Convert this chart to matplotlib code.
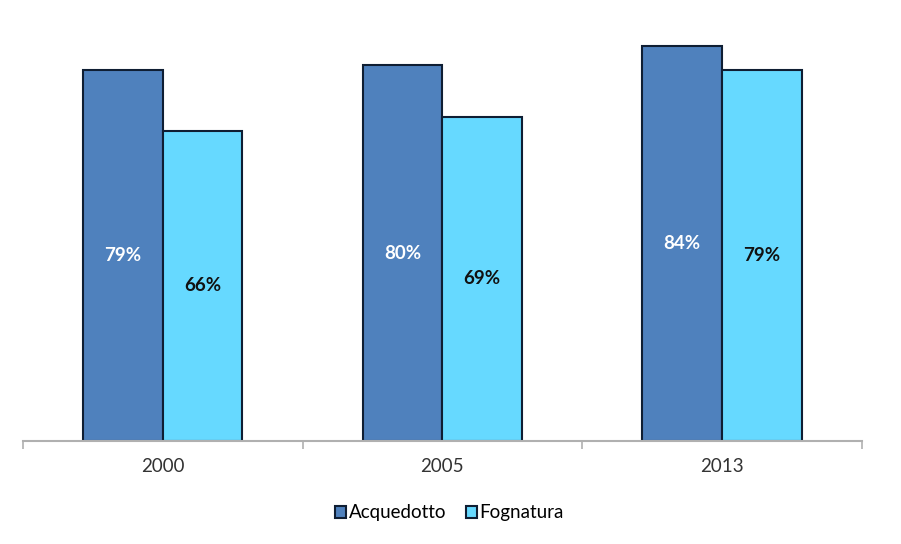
import numpy as np
from matplotlib import pyplot as plt

plt.rcParams['font.family'] = ['Lato', 'DejaVu Sans']

anni = ['2000', '2005', '2013']
acquedotto = [79, 80, 84]
fognatura = [66, 69, 79]
etichette_acq = ['79%', '80%', '84%']
etichette_fog = ['66%', '69%', '79%']

fig = plt.figure(figsize=(9.01, 5.44), dpi=100)
ax = fig.add_axes([0.0255, 0.1893, 0.931, 0.7776])

x = np.arange(len(anni))
w = 0.285
b1 = ax.bar(x - w / 2, acquedotto, w, color='#4F81BD', edgecolor='#0F1E33',
            linewidth=1.5, label='Acquedotto')
b2 = ax.bar(x + w / 2, fognatura, w, color='#66D9FF', edgecolor='#0F1E33',
            linewidth=1.5, label='Fognatura')

for i in range(len(anni)):
    ax.text(x[i] - w / 2, acquedotto[i] / 2, etichette_acq[i], ha='center', va='center',
            color='white', fontsize=13.5, fontweight='bold')
    ax.text(x[i] + w / 2, fognatura[i] / 2, etichette_fog[i], ha='center', va='center',
            color='#111111', fontsize=13.5, fontweight='bold')

ax.set_xlim(-0.5, 2.5)
ax.set_ylim(0, 90)
ax.set_yticks([])
for s in ['top', 'right', 'left']:
    ax.spines[s].set_visible(False)
ax.spines['bottom'].set_color('#B0B0B0')
ax.spines['bottom'].set_linewidth(1.5)

ax.set_xticks(x)
ax.set_xticklabels(anni, fontsize=13.5, color='#333333')
ax.tick_params(axis='x', which='major', length=0, pad=12)
ax.set_xticks([-0.5, 0.5, 1.5, 2.5], minor=True)
ax.tick_params(axis='x', which='minor', length=6, width=1.2, color='#B0B0B0')

fig.legend(handles=[b1, b2], loc='center', bbox_to_anchor=(0.499, 0.057), ncol=2,
           frameon=False, fontsize=13.5, handlelength=0.6, handleheight=0.6,
           handletextpad=0.15, columnspacing=1.0)

fig.savefig('out.png', dpi=100)
